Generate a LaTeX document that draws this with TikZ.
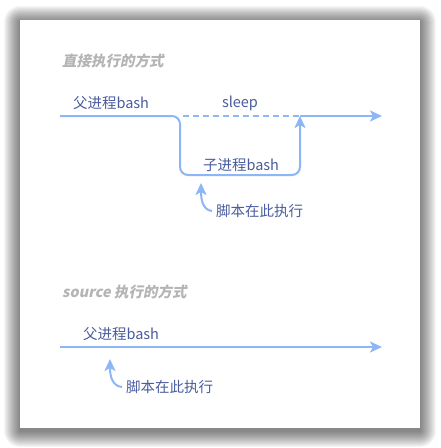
\documentclass[tikz,border=0pt]{standalone}
\usepackage{fontspec}
\setmainfont{Noto Sans CJK SC}
\newfontfamily\titlefont[FakeSlant=0.2]{Noto Sans CJK SC}
\usetikzlibrary{arrows.meta}

\definecolor{flowblue}{HTML}{8DB6F7}
\definecolor{labelblue}{HTML}{4A5C9E}
\definecolor{titlegray}{HTML}{B4B4B4}

\begin{document}
\begin{tikzpicture}[x=1pt,y=-1pt,
  flow/.style={draw=flowblue,line width=2pt},
  tip/.style={-{Stealth[length=12pt,width=11pt,inset=3pt]}},
  lbl/.style={text=labelblue,font=\fontsize{14.5}{16}\selectfont,inner sep=0pt},
  heading/.style={text=titlegray,font=\titlefont\bfseries\fontsize{14.5}{16}\selectfont,anchor=west,inner sep=0pt}]
\useasboundingbox (0,0) rectangle (440,448);
\fill[white] (0,0) rectangle (440,448);
% card shadow
\foreach \i in {1,...,16}
  \fill[black,opacity=0.036,rounded corners=\i pt] (20-\i,22-\i) rectangle (420+\i,431+\i);
\fill[white] (20,20) rectangle (420,428);

% direct execution
\node[heading] (t1) at (62,61) {直接执行的方式};
\coordinate (p0) at (60,116);
\coordinate (p1) at (180,116);
\coordinate (p2) at (300,116);
\coordinate (p3) at (382,116);
\coordinate (c0) at (180,175);
\coordinate (c1) at (300,175);
\coordinate (tip1) at (201,183);

\node[lbl] (parent1) at (111,103) {父进程bash};
\node[lbl] (sleep) at (240,103) {sleep};
\node[lbl] (child) at (241,165) {子进程bash};
\node[lbl,anchor=west] (run1) at (216,211) {脚本在此执行};

\draw[flow,tip,rounded corners=8pt] (p0) -- (p1) -- (c0) -- (c1) -- (p2);
\draw[flow,tip] (p2) -- (p3);
\draw[flow,dash pattern=on 6pt off 4pt] ([xshift=3pt]p1) -- (p2);
\draw[flow,tip] ([xshift=-4pt]run1.west) .. controls (203,210) and (201,200) .. (tip1);

% source execution
\node[heading] (t2) at (62,292) {source 执行的方式};
\coordinate (q0) at (60,347);
\coordinate (q1) at (382,347);
\coordinate (tip2) at (110,359);

\node[lbl] (parent2) at (121,334) {父进程bash};
\node[lbl,anchor=west] (run2) at (126,387) {脚本在此执行};

\draw[flow,tip] (q0) -- (q1);
\draw[flow,tip] ([xshift=-4pt]run2.west) .. controls (112,386) and (110,376) .. (tip2);
\end{tikzpicture}
\end{document}
